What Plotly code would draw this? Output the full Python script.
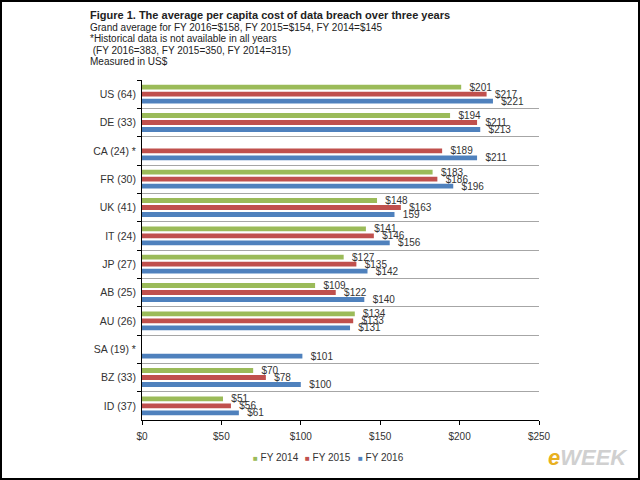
import plotly.graph_objects as go

categories = ["US (64)", "DE (33)", "CA (24) *", "FR (30)", "UK (41)", "IT (24)",
              "JP (27)", "AB (25)", "AU (26)", "SA (19) *", "BZ (33)", "ID (37)"]
fy2014 = [201, 194, None, 183, 148, 141, 127, 109, 134, None, 70, 51]
fy2015 = [217, 211, 189, 186, 163, 146, 135, 122, 133, None, 78, 56]
fy2016 = [221, 213, 211, 196, 159, 156, 142, 140, 131, 101, 100, 61]
series_names = ["FY 2014", "FY 2015", "FY 2016"]
series_colors = ["#9BBB59", "#C0504D", "#4F81BD"]
x_tickvals = [0, 50, 100, 150, 200, 250]
x_ticktext = ["$0", "$50", "$100", "$150", "$200", "$250"]
title_lines = [
    "<b>Figure 1. The average per capita cost of data breach over three years</b>",
    "Grand average for FY 2016=$158, FY 2015=$154, FY 2014=$145",
    "*Historical data is not available in all years",
    " (FY 2016=383, FY 2015=350, FY 2014=315)",
    "Measured in US$",
]

FONT = "Liberation Sans, Arial"

# plot area in pixels
L, R, T, B = 142, 539, 80, 420
PW, PH = R - L, B - T


def px_x(p):
    return (p - L) / PW


def px_y(p):
    return (B - p) / PH


def label(v, name, cat):
    if v is None:
        return ""
    if name == "FY 2016" and cat.startswith("UK"):
        return "   " + str(v)
    return "   $" + str(v)


fig = go.Figure()
for name, vals, col in zip(series_names, [fy2014, fy2015, fy2016], series_colors):
    fig.add_trace(go.Bar(
        y=categories, x=vals, name=name, orientation="h",
        marker=dict(color=col, line=dict(width=0)),
        text=[label(v, name, c) for v, c in zip(vals, categories)],
        textposition="outside", constraintext="none", cliponaxis=False,
        textfont=dict(size=10, color="#333333", family=FONT),
        showlegend=False,
    ))

annotations = []
line_centers = [15, 27, 38.5, 50, 61.5]
for i, (txt, yc) in enumerate(zip(title_lines, line_centers)):
    annotations.append(dict(
        xref="paper", yref="paper", x=px_x(88), y=px_y(yc),
        xanchor="left", yanchor="middle", showarrow=False, text=txt,
        font=dict(size=11 if i == 0 else 10, color="#222222", family=FONT)))

# legend (drawn as text entries below the axis)
legend_x = [251, 303, 356]
for name, col, lx in zip(series_names, series_colors, legend_x):
    annotations.append(dict(
        xref="paper", yref="paper", x=px_x(lx), y=px_y(457),
        xanchor="left", yanchor="middle", showarrow=False,
        text=f"<span style='color:{col};font-size:8px'>■</span> {name}",
        font=dict(size=10, color="#333333", family=FONT)))

annotations.append(dict(
    xref="paper", yref="paper", x=px_x(630), y=px_y(457),
    xanchor="right", yanchor="middle", showarrow=False,
    text="<b><i><span style='color:#E8B020'>e</span><span style='color:#D0D0D0'>WEEK</span></i></b>",
    font=dict(size=22, family=FONT)))

fig.update_layout(
    width=640, height=480,
    margin=dict(l=L, r=640 - R, t=T, b=480 - B),
    paper_bgcolor="white", plot_bgcolor="white",
    barmode="group", bargap=0.26, bargroupgap=0.3,
    font=dict(family=FONT, size=10, color="#333333"),
    showlegend=False,
    xaxis=dict(range=[0, 250], tickvals=x_tickvals, ticktext=x_ticktext,
               showgrid=False, zeroline=False, showline=True, linecolor="black", linewidth=1,
               ticks="outside", ticklen=4, tickcolor="black", ticklabelstandoff=3,
               tickfont=dict(size=10, color="#333333")),
    yaxis=dict(autorange="reversed", tickson="boundaries", showgrid=True,
               gridcolor="#A6A6A6", gridwidth=1, showline=True, linecolor="black", linewidth=1,
               ticks="outside", ticklen=4, tickcolor="black", ticklabelstandoff=3,
               tickfont=dict(size=10.5, color="#333333")),
    shapes=[dict(type="rect", xref="paper", yref="paper",
                 x0=px_x(0), x1=px_x(640), y0=px_y(480), y1=px_y(0),
                 line=dict(color="black", width=4), fillcolor="rgba(0,0,0,0)")],
    annotations=annotations,
)

fig.write_html("out.html")
